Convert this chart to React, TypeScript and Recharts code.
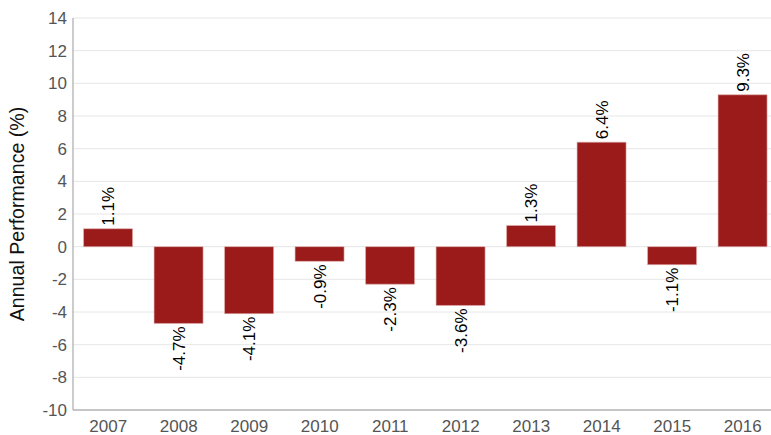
import React from 'react';
import { BarChart, Bar, XAxis, YAxis, CartesianGrid, LabelList } from 'recharts';

const years = ['2007', '2008', '2009', '2010', '2011', '2012', '2013', '2014', '2015', '2016'];
const performance = [1.1, -4.7, -4.1, -0.9, -2.3, -3.6, 1.3, 6.4, -1.1, 9.3];
const yTicks = [-10, -8, -6, -4, -2, 0, 2, 4, 6, 8, 10, 12, 14];

const data = years.map((y, i) => ({ year: y, value: performance[i] }));

const FONT = '"Liberation Sans", Arial, sans-serif';

const BarValueLabel = (props: any) => {
  const { x, y, width, height, value } = props;
  const cx = Number(x) + Number(width) / 2;
  const top = Math.min(Number(y), Number(y) + Number(height));
  const bottom = Math.max(Number(y), Number(y) + Number(height));
  const pos = Number(value) >= 0;
  const ty = pos ? top - 3 : bottom + 3;
  return (
    <text
      x={cx}
      y={ty}
      dy="0.35em"
      transform={`rotate(-90, ${cx}, ${ty})`}
      textAnchor={pos ? 'start' : 'end'}
      fontSize={17}
      fontFamily={FONT}
      fill="#000"
    >
      {`${Number(value).toFixed(1)}%`}
    </text>
  );
};

const AxisTitle = (props: any) => {
  const vb = props.viewBox || {};
  const cx = 17;
  const cy = (vb.y ?? 18) + (vb.height ?? 392) / 2;
  return (
    <text
      x={cx}
      y={cy}
      dy="0.35em"
      transform={`rotate(-90, ${cx}, ${cy})`}
      textAnchor="middle"
      fontSize={19.6}
      fontFamily={FONT}
      fill="#111"
    >
      Annual Performance (%)
    </text>
  );
};

export default function App() {
  return (
    <div style={{ position: 'absolute', left: 0, top: 0, width: 771, height: 435, overflow: 'hidden', background: '#fff' }}>
      <BarChart
        width={778}
        height={435}
        data={data}
        margin={{ top: 18, right: 0, bottom: 0, left: 1 }}
        barCategoryGap="15%"
      >
        <CartesianGrid vertical={false} stroke="#e6e6e6" strokeWidth={1} />
        <XAxis
          dataKey="year"
          height={25}
          tickLine={false}
          tickMargin={4}
          axisLine={{ stroke: '#999' }}
          tick={{ fill: '#555', fontSize: 17, fontFamily: FONT }}
          interval={0}
        />
        <YAxis
          width={72}
          domain={[-10, 14]}
          ticks={yTicks}
          tickLine={false}
          tickMargin={0}
          axisLine={{ stroke: '#999' }}
          tick={{ fill: '#555', fontSize: 17, fontFamily: FONT }}
          label={<AxisTitle />}
        />
        <Bar dataKey="value" fill="#9b1a1a" stroke="#e0b0b0" strokeWidth={0.6} isAnimationActive={false}>
          <LabelList dataKey="value" content={<BarValueLabel />} />
        </Bar>
      </BarChart>
    </div>
  );
}
